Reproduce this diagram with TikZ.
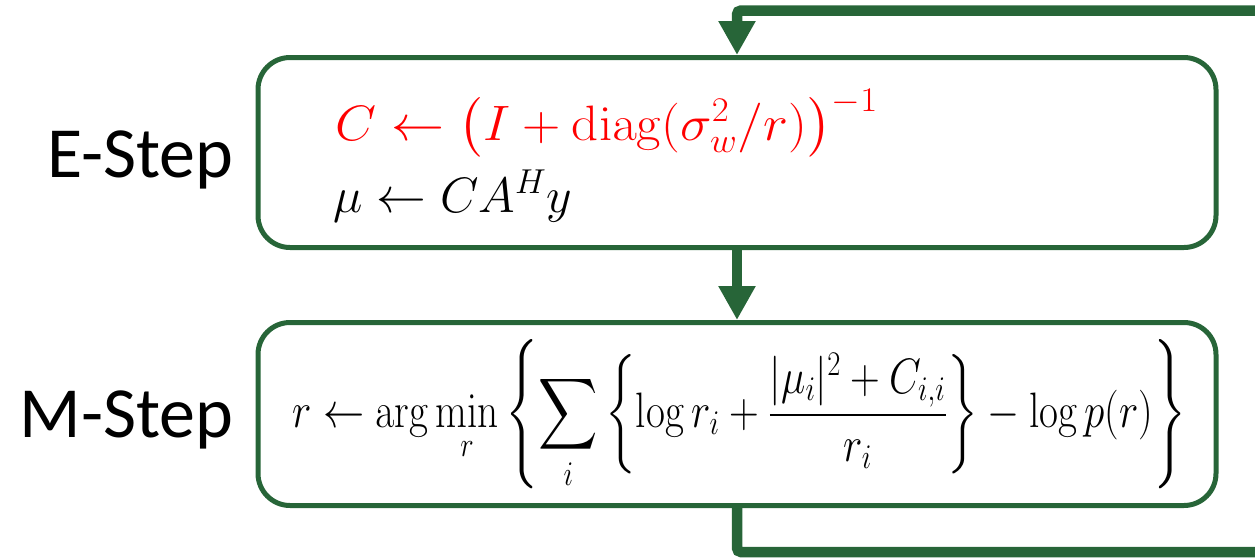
\documentclass[tikz,border=0pt]{standalone}
\usepackage[no-math]{fontspec}
\setmainfont{Carlito}
\usepackage{amsmath}
\usetikzlibrary{arrows.meta}
\definecolor{boxgreen}{RGB}{39,101,56}
\begin{document}
\begin{tikzpicture}[x=0.5pt,y=-0.5pt,
  stepbox/.style={draw=boxgreen, line width=2.5pt, rounded corners=16pt, minimum width=479pt, inner sep=0pt},
  conn/.style={draw=boxgreen, line width=5.25pt, -{Triangle[width=17.5pt,length=17pt]}},
  steplabel/.style={font=\fontsize{36}{42}\selectfont, anchor=base east, inner sep=0pt},
  eqtext/.style={anchor=base west, inner sep=0pt}]
\clip (0,0) rectangle (1255,558);
\node[stepbox, minimum height=95pt] (E) at (737,152.5) {};
\node[stepbox, minimum height=91.5pt] (M) at (737,414) {};
\node[steplabel] (El) at (234,177) {E-Step};
\node[steplabel] (Ml) at (234,437) {M-Step};
\node[eqtext, text=red] (eq1) at (335,140) {\fontsize{26}{30}\selectfont\resizebox{271.5pt}{\height}{$C \leftarrow \big(I + \mathrm{diag}(\sigma_w^2/r)\big)^{-1}$}};
\node[eqtext] (eq2) at (333,212) {\fontsize{26}{30}\selectfont $\mu \leftarrow CA^{H}y$};
\node[eqtext] (eq3) at (292,427) {\fontsize{24}{28}\selectfont\resizebox{447pt}{\height}{$\displaystyle r \leftarrow \arg\min_r \left\{ \sum_i \left\{ \log r_i + \frac{|\mu_i|^2 + C_{i,i}}{r_i} \right\} - \log p(r) \right\}$}};
\coordinate (bot) at (0,552);
\coordinate (top) at (0,10.5);
\coordinate (farR) at (1290,0);
\draw[conn] (E.south) -- (M.north);
\draw[conn, rounded corners=2pt] (M.south) -- (M.south |- bot) -- (farR |- bot) -- (farR |- top) -- (E.north |- top) -- (E.north);
\end{tikzpicture}
\end{document}
